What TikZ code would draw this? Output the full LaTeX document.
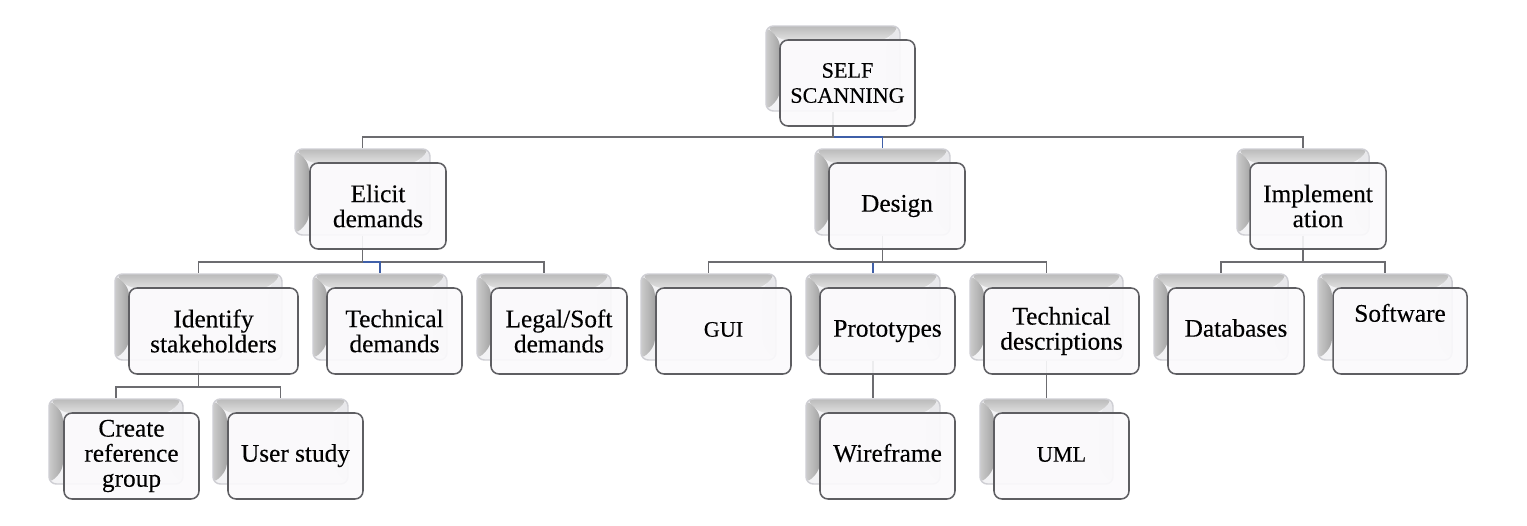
\documentclass[tikz,border=0pt]{standalone}
\usepackage{fontspec}
\setmainfont{Liberation Serif}[FakeBold=0.25]
\definecolor{edgeg}{HTML}{5E5E62}
\definecolor{linkg}{HTML}{6C6C70}
\definecolor{linkb}{HTML}{3F5FA8}
\definecolor{rimg}{HTML}{CFCFD4}
\definecolor{faceg}{HTML}{F3F3F5}
\definecolor{frontg}{HTML}{FBFAFC}
\tikzset{
  x=0.75pt,y=-0.75pt,
  backbox/.style={draw=rimg,line width=1.1pt,fill=faceg,rounded corners=5.5pt,inner sep=0pt,
    path picture={
      \coordinate (nw) at (path picture bounding box.north west);
      \coordinate (ne) at (path picture bounding box.north east);
      \coordinate (sw) at (path picture bounding box.south west);
      \coordinate (se) at (path picture bounding box.south east);
      \fill[faceg!70!rimg] (ne) -- ([xshift=-10pt,yshift=-10pt]ne) -- ([xshift=-10pt,yshift=10pt]se) -- (se) -- cycle;
      \shade[top color=black!27,bottom color=black!12] (nw) -- (ne) -- ([xshift=-10.5pt,yshift=-10.5pt]ne) -- ([xshift=10.5pt,yshift=-10.5pt]nw) -- cycle;
      \shade[left color=black!20,right color=black!36] (nw) -- ([xshift=10.5pt,yshift=-10.5pt]nw) -- ([xshift=10.5pt,yshift=10.5pt]sw) -- (sw) -- cycle;
    }},
  frontbox/.style={draw=edgeg,line width=1.15pt,fill=frontg,fill opacity=0.9,text opacity=1,
    rounded corners=6pt,inner sep=0pt,align=center,font=\fontsize{19}{18.8}\selectfont},
  link/.style={draw=linkg,line width=1.1pt},
  linkblue/.style={draw=linkb,line width=1.1pt},
}
\newcommand{\backat}[5]{\node[backbox,minimum width={(#4-#2)*0.75pt},minimum height={(#5-#3)*0.75pt}] (#1) at ({(#2+#4)/2},{(#3+#5)/2}) {};}
\newcommand{\frontat}[6]{\node[frontbox,minimum width={(#4-#2)*0.75pt},minimum height={(#5-#3)*0.75pt}] (#1) at ({(#2+#4)/2},{(#3+#5)/2}) {#6};}
\newcommand{\oneline}[1]{\smash{#1}\rule[-2pt]{0pt}{12.5pt}}
\newcommand{\capsize}{\fontsize{16.6}{18.8}\selectfont}
\begin{document}
\begin{tikzpicture}
\useasboundingbox (0,0) rectangle (1527,525);
\fill[white] (0,0) rectangle (1527,525);
% rear plates
\backat{selfB}{766}{26}{900}{111}
\backat{elicitB}{295}{149}{430}{235}
\backat{designB}{815}{149}{950}{235}
\backat{implB}{1237}{149}{1369}{235}
\backat{identB}{115}{274}{282}{360}
\backat{techB}{313}{274}{447}{360}
\backat{legalB}{477}{274}{611}{360}
\backat{guiB}{641}{274}{776}{360}
\backat{protoB}{806}{274}{940}{360}
\backat{descB}{970}{274}{1123}{360}
\backat{dataB}{1154}{274}{1288}{360}
\backat{softB}{1318}{274}{1452}{360}
\backat{createB}{49}{399}{183}{484}
\backat{userB}{213}{399}{348}{484}
\backat{wireB}{806}{399}{940}{484}
\backat{umlB}{980}{399}{1113}{484}
% bus levels
\coordinate (busA) at (0,137);
\coordinate (busB) at (0,262);
\coordinate (busC) at (0,387);
% connectors
\draw[link] (selfB.south) -- (selfB.south |- busA) -| (implB.north);
\draw[linkblue] (selfB.south |- busA) -| (designB.north);
\draw[link] (selfB.south) -- (selfB.south |- busA) -| (elicitB.north);
\draw[link] (elicitB.south) -- (elicitB.south |- busB) -| (legalB.north);
\draw[linkblue] (elicitB.south |- busB) -| (techB.north);
\draw[link] (elicitB.south) -- (elicitB.south |- busB) -| (identB.north);
\draw[link] (designB.south) -- (designB.south |- busB) -| (descB.north);
\draw[linkblue] (designB.south |- busB) -| (protoB.north);
\draw[link] (designB.south) -- (designB.south |- busB) -| (guiB.north);
\draw[link] (implB.south) -- (implB.south |- busB) -| (softB.north);
\draw[link] (implB.south) -- (implB.south |- busB) -| (dataB.north);
\draw[link] (identB.south) -- (identB.south |- busC) -| (userB.north);
\draw[link] (identB.south) -- (identB.south |- busC) -| (createB.north);
\draw[link] (protoB.south) -- (wireB.north);
\draw[link] (descB.south) -- (umlB.north);
% front plates
\frontat{self}{780}{40}{915}{126}{\capsize SELF\\\capsize SCANNING}
\frontat{elicit}{310}{163}{446}{249}{Elicit\\demands}
\frontat{design}{829}{163}{965}{249}{\oneline{Design}}
\frontat{impl}{1250}{163}{1386}{249}{Implement\\ation}
\frontat{ident}{129}{288}{298}{374}{Identify\\stakeholders}
\frontat{tech}{327}{288}{462}{374}{Technical\\demands}
\frontat{legal}{491}{288}{627}{374}{Legal/Soft\\demands}
\frontat{gui}{656}{288}{791}{374}{\oneline{\capsize GUI}}
\frontat{proto}{820}{288}{955}{374}{\oneline{Prototypes}}
\frontat{desc}{984}{288}{1139}{374}{Technical\\descriptions}
\frontat{data}{1168}{288}{1304}{374}{\oneline{Databases}}
\frontat{soft}{1333}{288}{1467}{374}{Software\\[8.5pt]~}
\frontat{create}{64}{413}{199}{499}{Create\\reference\\group}
\frontat{user}{228}{413}{363}{499}{\oneline{User study}}
\frontat{wire}{820}{413}{955}{499}{\oneline{Wireframe}}
\frontat{uml}{994}{413}{1129}{499}{\oneline{\capsize UML}}
\end{tikzpicture}
\end{document}
